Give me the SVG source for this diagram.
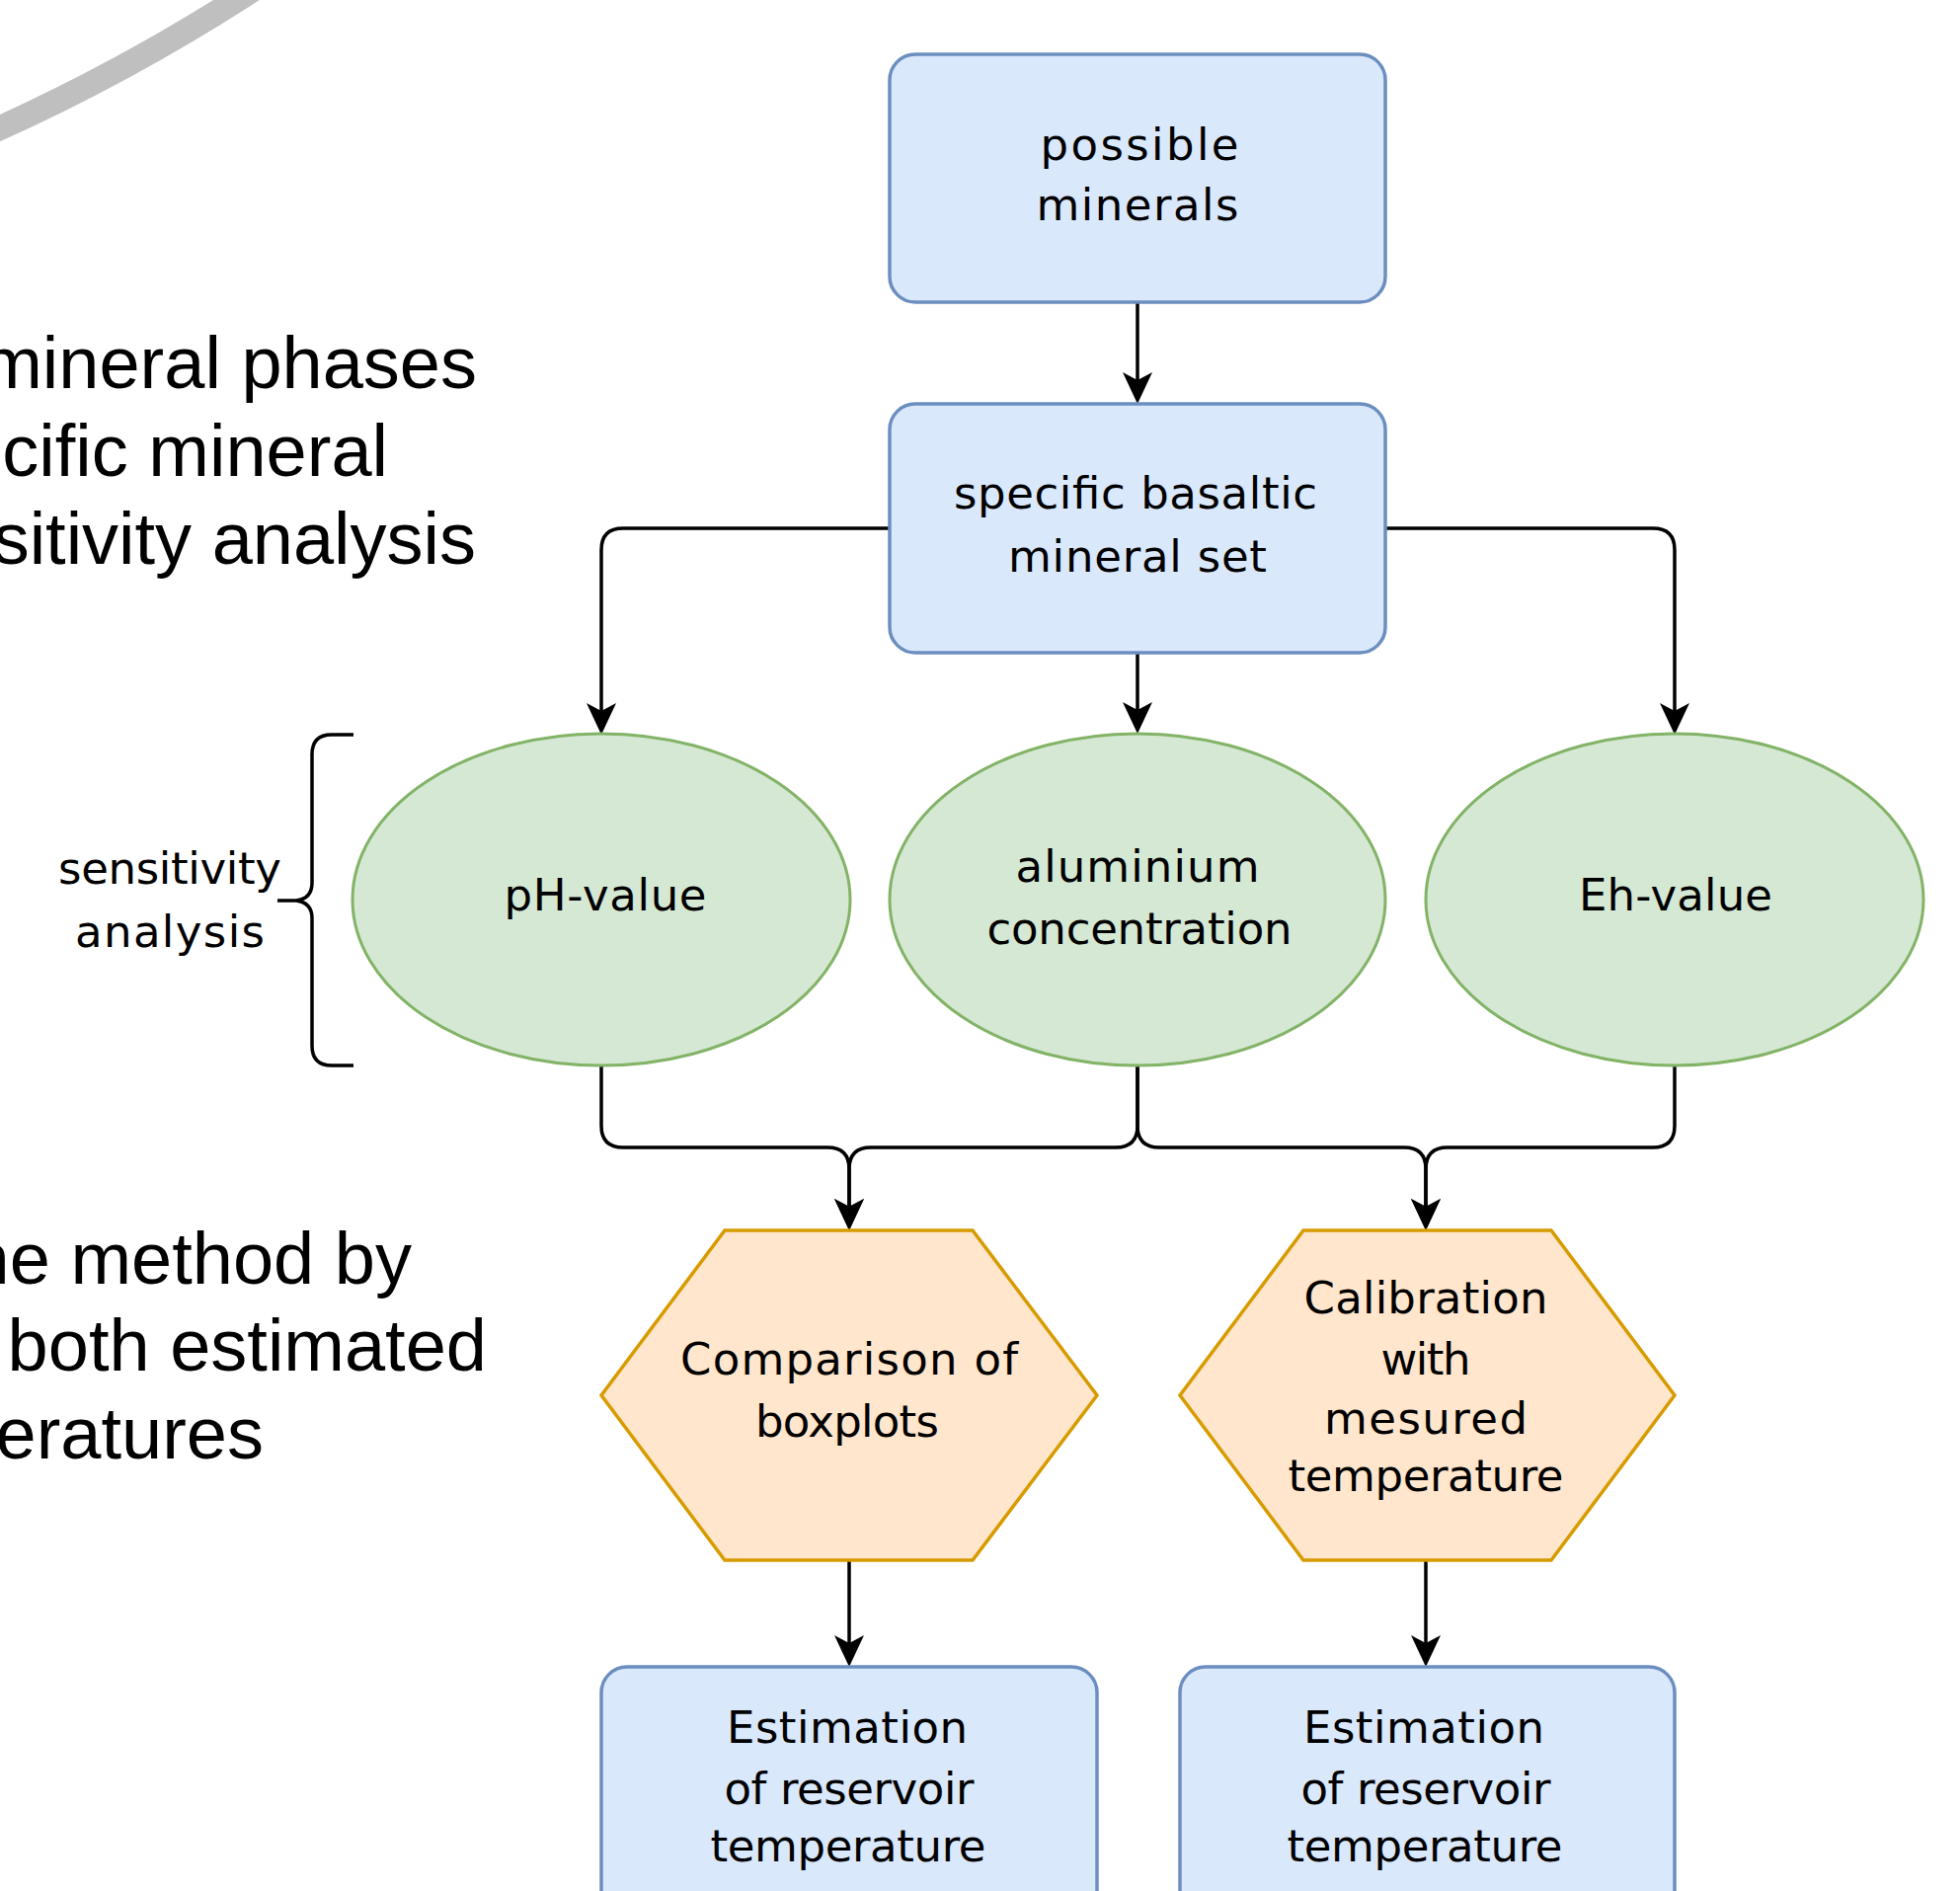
<svg xmlns="http://www.w3.org/2000/svg" width="1985" height="1915" viewBox="0 0 1985 1915">
<style>
.box{fill:#dae8fc;stroke:#6c8ebf;stroke-width:3.5}
.ell{fill:#d5e8d4;stroke:#82b366;stroke-width:3}
.hex{fill:#ffe6cc;stroke:#d79b00;stroke-width:3.5}
.lbl{font-family:"DejaVu Sans",sans-serif;font-size:45px;fill:#000;text-anchor:middle}
.big{font-family:"Liberation Sans",Arial,sans-serif;font-size:74px;fill:#000;text-anchor:end}
.edge{fill:none;stroke:#000;stroke-width:3.5}
</style>
<defs>
<marker id="arr" viewBox="-42 -17 44 34" refX="-8" refY="0" markerWidth="44" markerHeight="34" markerUnits="userSpaceOnUse" orient="auto">
<path d="M0,0 L-32,-15 L-24,0 L-32,15 Z" fill="#000"/>
</marker>
</defs>
<rect width="1985" height="1915" fill="#fff"/>
<g id="arc">
<path d="M-30,143 A1982,1982 0 0 0 263,-15" fill="none" stroke="#bfbfbf" stroke-width="25"/>
</g>
<g id="side-text">
<text class="big" x="483" y="393">mineral phases</text>
<text class="big" x="393" y="482">cific mineral</text>
<text class="big" x="482" y="571">sitivity analysis</text>
<text class="big" x="417" y="1300">ne method by</text>
<text class="big" x="493" y="1388">both estimated</text>
<text class="big" x="267" y="1477">eratures</text>
</g>
<g id="connectors">
<path class="edge" d="M1152,306 L1152,401" marker-end="url(#arr)"/>
<path class="edge" d="M901,535 L631,535 Q609,535 609,557 L609,736" marker-end="url(#arr)"/>
<path class="edge" d="M1152,661 L1152,735" marker-end="url(#arr)"/>
<path class="edge" d="M1403,535 L1674,535 Q1696,535 1696,557 L1696,736" marker-end="url(#arr)"/>
<path class="edge" d="M609,1079 L609,1140 Q609,1162 631,1162 L838,1162 Q860,1162 860,1184 L860,1238" marker-end="url(#arr)"/>
<path class="edge" d="M1152,1079 L1152,1140 Q1152,1162 1130,1162 L882,1162 Q860,1162 860,1184 L860,1238" marker-end="url(#arr)"/>
<path class="edge" d="M1152,1079 L1152,1140 Q1152,1162 1174,1162 L1422,1162 Q1444,1162 1444,1184 L1444,1238" marker-end="url(#arr)"/>
<path class="edge" d="M1696,1079 L1696,1140 Q1696,1162 1674,1162 L1466,1162 Q1444,1162 1444,1184 L1444,1238" marker-end="url(#arr)"/>
<path class="edge" d="M860,1580 L860,1680" marker-end="url(#arr)"/>
<path class="edge" d="M1444,1580 L1444,1680" marker-end="url(#arr)"/>
</g>
<g id="brace">
<path class="edge" d="M358,744 L336,744 Q316,744 316,764 L316,894 Q316,910 300,912 L281,912 M300,912 Q316,914 316,930 L316,1059 Q316,1079 336,1079 L358,1079"/>
<text class="lbl" x="172" y="895" textLength="226" lengthAdjust="spacing">sensitivity</text>
<text class="lbl" x="172" y="959" textLength="192" lengthAdjust="spacing">analysis</text>
</g>
<g id="possible-minerals">
<rect class="box" x="901" y="55" width="502" height="251" rx="26"/>
<text class="lbl" x="1154" y="162" textLength="201" lengthAdjust="spacing">possible</text>
<text class="lbl" x="1152" y="223" textLength="205" lengthAdjust="spacing">minerals</text>
</g>
<g id="specific-set">
<rect class="box" x="901" y="409" width="502" height="252" rx="26"/>
<text class="lbl" x="1150" y="515" textLength="368" lengthAdjust="spacing">specific basaltic</text>
<text class="lbl" x="1152" y="579" textLength="262" lengthAdjust="spacing">mineral set</text>
</g>
<g id="ph-value">
<ellipse class="ell" cx="609" cy="911" rx="252" ry="168"/>
<text class="lbl" x="613" y="922" textLength="205" lengthAdjust="spacing">pH-value</text>
</g>
<g id="aluminium">
<ellipse class="ell" cx="1152" cy="911" rx="251" ry="168"/>
<text class="lbl" x="1152" y="893" textLength="247" lengthAdjust="spacing">aluminium</text>
<text class="lbl" x="1154" y="956" textLength="309" lengthAdjust="spacing">concentration</text>
</g>
<g id="eh-value">
<ellipse class="ell" cx="1696" cy="911" rx="252" ry="168"/>
<text class="lbl" x="1697" y="922" textLength="196" lengthAdjust="spacing">Eh-value</text>
</g>
<g id="comparison">
<polygon class="hex" points="734,1246 985,1246 1111,1413 985,1580 734,1580 609,1413"/>
<text class="lbl" x="860" y="1392" textLength="342" lengthAdjust="spacing">Comparison of</text>
<text class="lbl" x="858" y="1455" textLength="186" lengthAdjust="spacing">boxplots</text>
</g>
<g id="calibration">
<polygon class="hex" points="1320,1246 1571,1246 1696,1413 1571,1580 1320,1580 1195,1413"/>
<text class="lbl" x="1444" y="1330" textLength="247" lengthAdjust="spacing">Calibration</text>
<text class="lbl" x="1444" y="1392" textLength="91" lengthAdjust="spacing">with</text>
<text class="lbl" x="1444" y="1452" textLength="206" lengthAdjust="spacing">mesured</text>
<text class="lbl" x="1444" y="1510" textLength="279" lengthAdjust="spacing">temperature</text>
</g>
<g id="estimation-1">
<rect class="box" x="609" y="1688" width="502" height="300" rx="26"/>
<text class="lbl" x="858" y="1765" textLength="244" lengthAdjust="spacing">Estimation</text>
<text class="lbl" x="860" y="1827" textLength="253" lengthAdjust="spacing">of reservoir</text>
<text class="lbl" x="859" y="1885" textLength="279" lengthAdjust="spacing">temperature</text>
</g>
<g id="estimation-2">
<rect class="box" x="1195" y="1688" width="501" height="300" rx="26"/>
<text class="lbl" x="1442" y="1765" textLength="244" lengthAdjust="spacing">Estimation</text>
<text class="lbl" x="1444" y="1827" textLength="253" lengthAdjust="spacing">of reservoir</text>
<text class="lbl" x="1443" y="1885" textLength="279" lengthAdjust="spacing">temperature</text>
</g>
</svg>
